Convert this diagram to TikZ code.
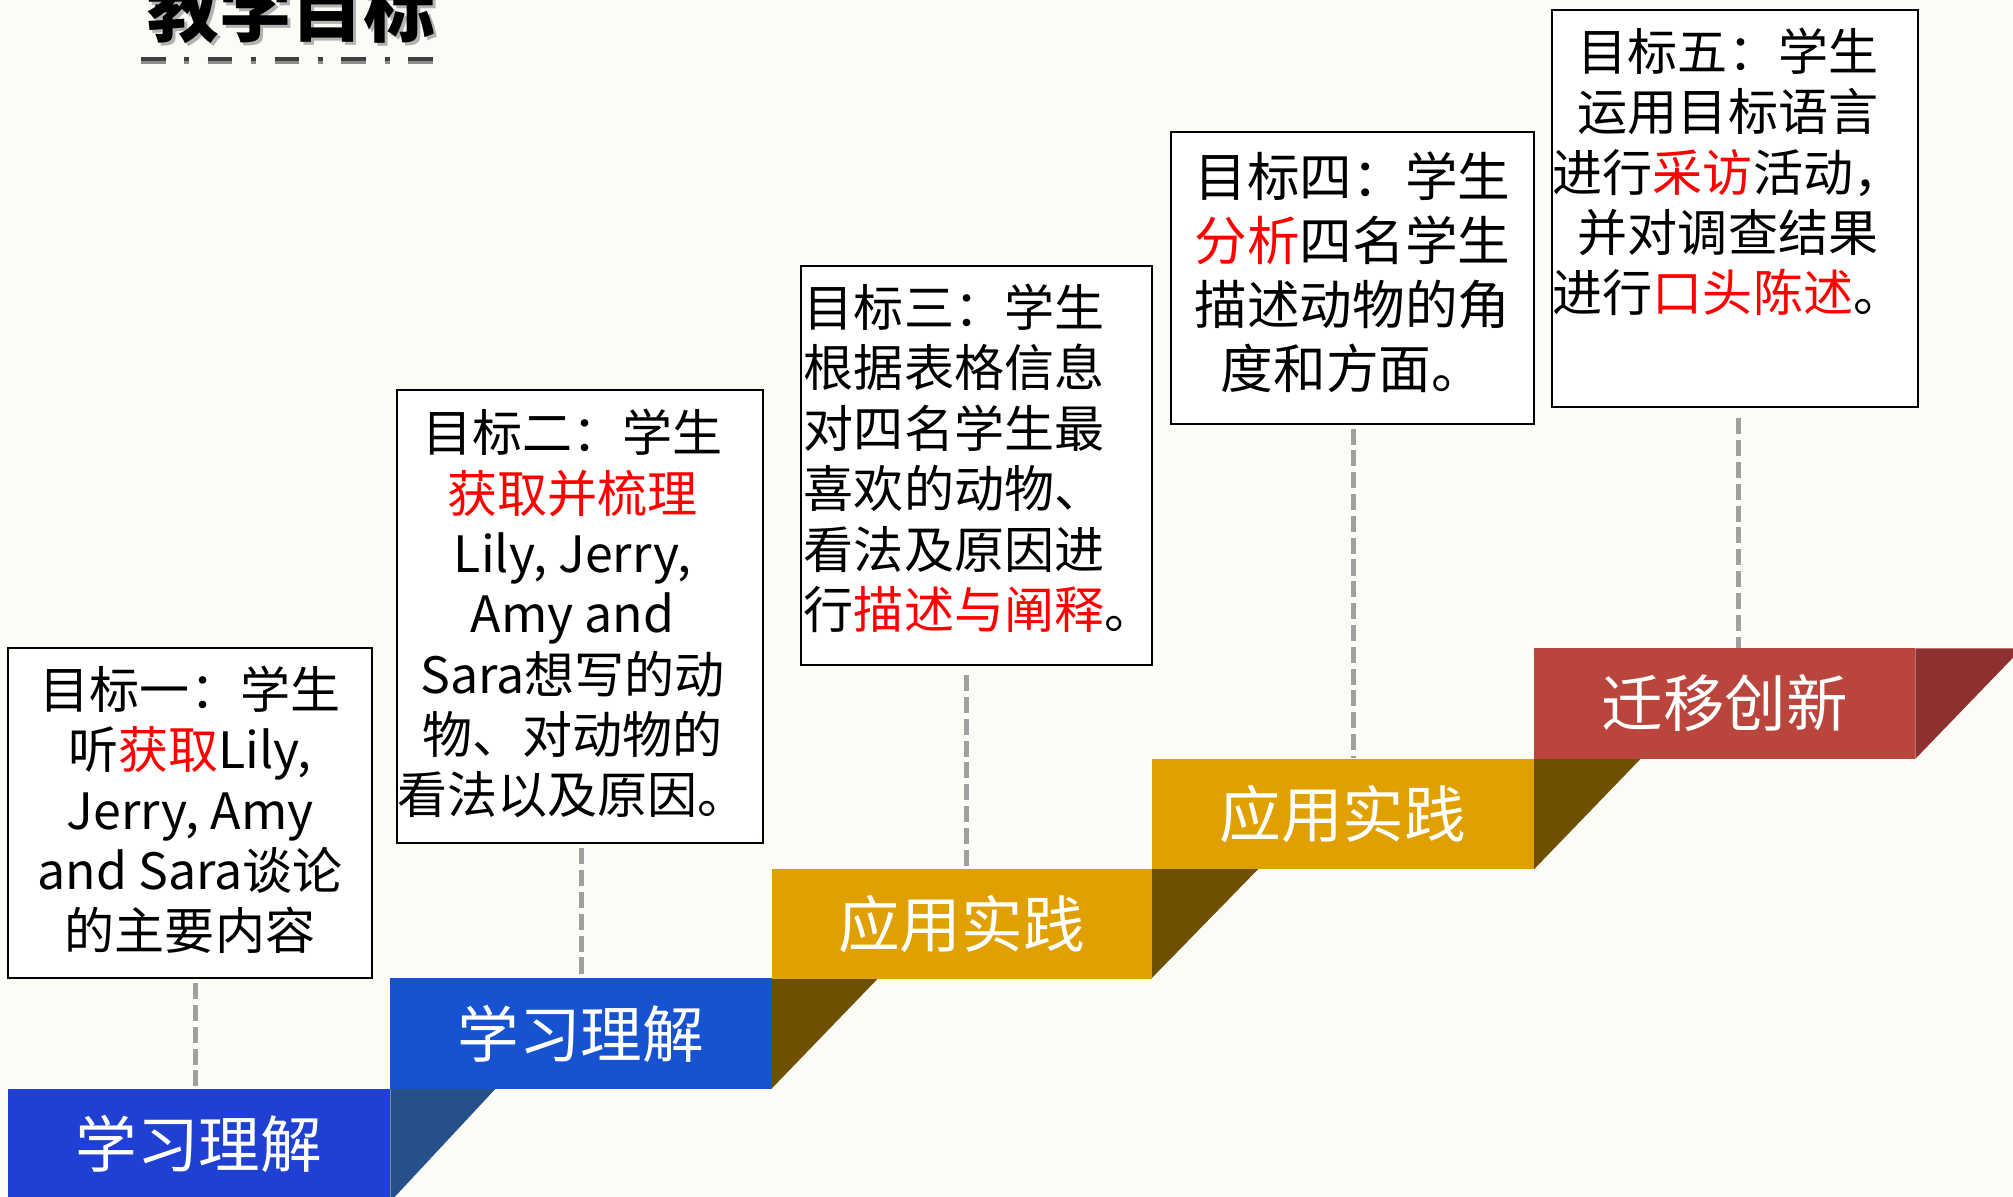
\documentclass[tikz,border=0pt]{standalone}
\usepackage{fontspec}
\setmainfont{Noto Sans CJK SC}
\usetikzlibrary{calc}
\definecolor{bgc}{HTML}{FCFBF5}
\definecolor{blueA}{HTML}{1F40D2}
\definecolor{blueB}{HTML}{1753D1}
\definecolor{blueSh}{HTML}{26508A}
\definecolor{orangeS}{HTML}{DFA000}
\definecolor{brownSh}{HTML}{6E5000}
\definecolor{redS}{HTML}{B9453C}
\definecolor{redSh}{HTML}{8C3030}
\definecolor{hl}{HTML}{FF0000}
\definecolor{connc}{HTML}{A0A0A0}
\begin{document}
\begin{tikzpicture}[x=1pt,y=-1pt,
  goalbox/.style={draw=black,line width=1.6pt,fill=white,inner sep=0pt},
  goaltext/.style={inner sep=0pt,align=center,font=\fontsize{39}{47}\selectfont},
  stepbox/.style={inner sep=0pt,minimum height=86pt,text=white,font=\fontsize{48}{56}\selectfont},
  conn/.style={draw=connc,line width=4pt,dash pattern=on 12.5pt off 4.5pt}]
\useasboundingbox (0,0) rectangle (1568,932);
\clip (0,0) rectangle (1568,932);
\fill[bgc] (0,0) rectangle (1568,932);

% title
\node[text=black!30,font=\fontsize{56}{60}\selectfont\bfseries,inner sep=0pt] (titlesh) at (229.5,9.5) {教学目标};
\node[text=black,font=\fontsize{56}{60}\selectfont\bfseries,inner sep=0pt] (title) at (227,7) {教学目标};
\draw[line width=2.5pt,black!75,dash pattern=on 19pt off 14.5pt on 4pt off 14.5pt] (110,46) -- (340,46);
\draw[line width=2pt,black!45,dash pattern=on 19pt off 14.5pt on 4pt off 14.5pt] (110,48.5) -- (340,48.5);

% step shadows
\fill[blueSh] (304,848) -- (386,848) -- (304,936) -- cycle;
\fill[brownSh] (601,762) -- (684,762) -- (601,848) -- cycle;
\fill[brownSh] (897,677) -- (980,677) -- (897,762) -- cycle;
\fill[brownSh] (1195,591) -- (1278,591) -- (1195,677) -- cycle;
\fill[redSh] (1492,505) -- (1575,505) -- (1492,591) -- cycle;

% steps
\node[stepbox,fill=blueA,minimum width=298pt] (s1) at (155,891) {学习理解};
\node[stepbox,fill=blueB,minimum width=297pt] (s2) at (452.5,805) {学习理解};
\node[stepbox,fill=orangeS,minimum width=296pt] (s3) at (749,719.5) {应用实践};
\node[stepbox,fill=orangeS,minimum width=298pt] (s4) at (1046,634) {应用实践};
\node[stepbox,fill=redS,minimum width=297pt] (s5) at (1343.5,548) {迁移创新};

% goal boxes
\node[goalbox,minimum width=284pt,minimum height=257pt] (g1) at (148,633.5) {};
\node[goalbox,minimum width=285pt,minimum height=353pt] (g2) at (451.5,480.5) {};
\node[goalbox,minimum width=273pt,minimum height=311pt] (g3) at (760.5,362.5) {};
\node[goalbox,minimum width=283pt,minimum height=227pt] (g4) at (1053.5,216.5) {};
\node[goalbox,minimum width=285pt,minimum height=309pt] (g5) at (1351.5,162.5) {};

\node[goaltext] (t1) at (148,631) {目标一：学生\\听{\color{hl}获取}Lily,\\Jerry, Amy\\and Sara谈论\\的主要内容};
\node[goaltext] (t2) at (446,478) {目标二：学生\\{\color{hl}获取并梳理}\\Lily, Jerry,\\Amy and\\Sara想写的动\\物、对动物的\\看法以及原因。};
\node[goaltext,align=left,anchor=west] (t3) at (626,357) {目标三：学生\\根据表格信息\\对四名学生最\\喜欢的动物、\\看法及原因进\\行{\color{hl}描述与阐释}。};
\node[goaltext,font=\fontsize{41}{50}\selectfont] (t4) at (1053.5,212) {目标四：学生\\{\color{hl}分析}四名学生\\描述动物的角\\度和方面。};
\node[goaltext] (t5) at (1346,134) {目标五：学生\\运用目标语言\\进行{\color{hl}采访}活动，\\并对调查结果\\进行{\color{hl}口头陈述}。};

% connectors
\draw[conn] ([xshift=4pt,yshift=-3pt]g1.south) -- ([xshift=4pt]g1.south |- s1.north);
\draw[conn] ([xshift=1.5pt,yshift=-3pt]g2.south) -- ([xshift=1.5pt]g2.south |- s2.north);
\draw[conn] ([xshift=-7.5pt,yshift=-7pt]g3.south) -- ([xshift=-7.5pt]g3.south |- s3.north);
\draw[conn] ([xshift=0.5pt,yshift=-3pt]g4.south) -- ([xshift=0.5pt]g4.south |- s4.north);
\draw[conn] ([xshift=2.5pt,yshift=-8pt]g5.south) -- ([xshift=2.5pt]g5.south |- s5.north);
\end{tikzpicture}
\end{document}
